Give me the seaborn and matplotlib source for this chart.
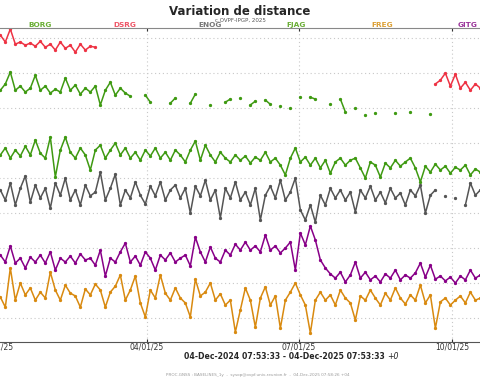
import numpy as np
import pandas as pd
import matplotlib
matplotlib.use("Agg")
import matplotlib.pyplot as plt
import matplotlib.dates as mdates
import seaborn as sns

nan = np.nan

# sampling dates (every 3 days over the year)
dates = pd.date_range("2024-12-04", periods=122, freq="3D")

# baseline variations, one offset per station (grid step = 10)
dsrg = [80.6, 81.7, 80.0, 80.9, 79.4, 81.1, 80.3, 79.7, 81.4, 80.6,
        80.9, 78.9, 82.6, 78.3, 78.9, 78.0, 78.6, 77.7, 79.1, 77.4,
        78.3, 76.6, 78.9, 77.1, 78.0, 76.0, 78.3, 76.6, 77.7, 77.4] \
    + [nan] * 67 + \
       [66.9, 68.0, 70.0, 66.3, 69.7, 65.7, 67.4, 65.1, 66.9, 65.7,
        67.1, 65.4, 66.6, 64.9, 66.9, 65.7, 66.3, 65.1, 67.1, 66.0,
        66.6, 65.4, 66.9, 65.7, 66.3]

borg = [65.7, 64.6, 66.6, 65.1, 63.7, 66.0, 64.9, 66.3, 64.3, 65.4,
        65.1, 66.9, 70.3, 65.1, 66.3, 64.6, 65.7, 69.4, 65.1, 66.3,
        64.3, 65.4, 64.6, 68.6, 65.1, 66.6, 64.0, 65.7, 64.6, 66.3,
        60.9, 65.1, 67.4, 63.7, 65.7, 64.3, 63.4, nan, nan, 63.7,
        61.7, nan, nan, nan, 61.4, 62.9, nan, nan, 61.4, 64.0,
        nan, nan, 60.9, nan, nan, 61.7, 62.6, nan, 62.9, nan,
        60.9, 62.0, nan, 62.3, 61.1, nan, 60.6, nan, 60.0, nan,
        63.1, nan, 63.1, 62.6, nan, nan, 61.1, nan, 62.6, 58.9,
        nan, 60.0, nan, 58.0, nan, 58.6, nan, nan, nan, 58.6,
        nan, nan, 58.9, nan, nan, nan, 58.3] + [nan] * 25

enog = [36.6, 33.7, 38.0, 35.1, 32.3, 37.1, 36.0, 34.3, 38.3, 34.9,
        36.6, 33.7, 38.6, 32.3, 37.1, 40.6, 33.1, 38.0, 34.3, 37.1,
        31.4, 38.6, 35.1, 40.0, 33.7, 36.6, 32.3, 38.0, 34.9, 36.0,
        41.7, 33.7, 37.1, 41.1, 32.3, 36.6, 34.3, 38.9, 35.1, 32.6,
        37.7, 34.9, 38.9, 33.7, 36.6, 38.0, 34.3, 37.1, 30.0, 37.7,
        34.9, 39.4, 33.7, 36.6, 28.6, 37.1, 34.3, 38.9, 33.7, 36.0,
        32.3, 37.1, 28.0, 35.1, 37.7, 34.3, 39.4, 33.7, 36.0, 40.0,
        30.9, 28.0, 32.3, 27.4, 35.1, 32.3, 37.1, 34.3, 36.6, 33.7,
        36.0, 30.3, 36.6, 34.3, 37.7, 33.7, 36.0, 32.9, 37.1, 34.3,
        35.7, 32.3, 36.6, 34.9, 38.0, 30.0, 35.1, 36.6, nan, 34.9,
        nan, 34.3, nan, 32.3, 38.6, 35.1, 36.6,
        34.9, 37.1, 33.7, 36.0, 37.7, 34.3, 36.6, 33.1, 37.1, 35.1,
        36.0, 34.0, 37.4, 35.4, 36.3]

fjag = [48.0, 45.7, 49.4, 46.6, 45.1, 48.6, 47.4, 46.0, 49.1, 47.1,
        46.6, 48.6, 45.7, 48.0, 46.3, 49.1, 46.6, 50.9, 47.1, 45.7,
        51.7, 40.3, 48.0, 51.7, 47.4, 45.7, 48.6, 46.6, 42.3, 48.0,
        49.4, 45.7, 48.0, 50.0, 46.6, 48.6, 45.7, 47.4, 45.1, 48.0,
        46.3, 48.6, 45.7, 47.4, 45.1, 48.0, 46.6, 44.6, 48.0, 50.6,
        45.1, 49.4, 46.6, 44.6, 47.4, 45.7, 44.6, 46.6, 45.1, 46.3,
        44.3, 46.0, 45.1, 47.4, 44.6, 45.7, 43.7, 40.9, 45.7, 48.6,
        44.6, 46.0, 43.7, 45.7, 42.9, 45.1, 41.4, 44.6, 45.7, 43.7,
        45.1, 45.7, 42.9, 40.0, 44.6, 43.7, 40.3, 44.3, 42.9, 45.1,
        43.4, 44.6, 45.7, 42.9, 38.9, 43.4, 41.7, 44.0, 42.3, 43.4,
        41.4, 43.1, 42.3, 43.7, 40.9, 42.6, 41.7,
        42.9, 41.1, 43.4, 42.0, 40.6, 42.6, 41.4, 43.1, 41.7, 42.3,
        40.9, 42.9, 41.4, 42.3, 41.1]

freg = [5.7, 7.4, 4.3, 8.0, 6.3, 5.1, 8.6, 6.6, 3.7, 5.4,
        6.0, 3.1, 14.3, 5.1, 10.0, 6.6, 8.6, 5.1, 7.4, 5.7,
        13.1, 8.0, 5.1, 9.4, 7.1, 6.3, 3.1, 8.3, 6.6, 9.7,
        8.0, 3.1, 7.4, 9.1, 12.3, 5.1, 8.0, 12.0, 4.3, 0.3,
        8.0, 5.7, 12.3, 7.1, 5.1, 8.6, 5.7, 4.3, 0.3, 11.1,
        6.3, 7.4, 10.0, 5.1, 6.9, 3.7, 5.1, -4.0, 2.3, 8.6,
        5.1, -2.6, 5.7, 8.9, 3.7, 6.3, -2.9, 5.1, 7.4, 10.0,
        6.6, 3.7, -4.3, 5.1, 7.4, 5.1, 6.6, 3.7, 8.0, 5.7,
        4.3, -0.6, 6.3, 5.1, 8.0, 5.7, 3.7, 7.1, 5.1, 8.6,
        5.7, 4.0, 6.6, 5.1, 9.4, 4.3, 6.6, -2.9, 4.6, 5.7,
        3.7, 5.1, 6.3, 4.3, 7.4, 5.1, 5.7,
        4.6, 6.6, 5.1, 3.4, 7.1, 5.4, 4.0, 6.0, 4.9, 6.6,
        4.3, 5.7, 5.1, 6.3, 4.6]

gitg = [16.6, 18.0, 16.0, 18.9, 17.1, 15.1, 17.7, 16.6, 19.4, 17.1,
        18.0, 16.0, 20.6, 15.7, 17.1, 14.3, 17.4, 16.0, 18.0, 15.7,
        18.9, 13.7, 17.1, 16.0, 17.7, 15.7, 18.3, 16.6, 17.1, 15.1,
        19.4, 12.0, 17.1, 16.0, 18.9, 21.4, 16.0, 17.7, 15.1, 18.9,
        17.1, 13.7, 18.0, 16.6, 18.6, 16.0, 17.1, 18.0, 14.9, 23.1,
        18.9, 16.0, 20.3, 17.1, 16.0, 19.4, 18.0, 21.1, 19.4, 21.7,
        19.4, 20.6, 18.9, 23.7, 19.4, 20.6, 18.6, 20.0, 21.7, 13.7,
        24.3, 20.9, 26.3, 22.3, 16.6, 14.3, 12.6, 11.4, 13.1, 10.3,
        12.3, 16.0, 11.4, 13.1, 10.9, 12.0, 10.3, 12.6, 11.4, 13.7,
        10.9, 12.3, 11.4, 12.9, 15.7, 11.7, 15.1, 11.1, 12.0, 10.6,
        11.7, 10.0, 12.0, 10.9, 13.7, 11.4, 12.3,
        10.9, 12.0, 11.1, 12.6, 10.6, 11.7, 11.1, 12.3, 10.9, 11.7,
        10.3, 12.0, 11.1, 12.6, 10.9]

stations = ["BORG", "DSRG", "ENOG", "FJAG", "FREG", "GITG"]
series = {"DSRG": dsrg, "BORG": borg, "FJAG": fjag, "ENOG": enog,
          "GITG": gitg, "FREG": freg}
line_colors = {"DSRG": "#ee3344", "BORG": "#3f9a12", "FJAG": "#3f9a12",
               "ENOG": "#555555", "GITG": "#880088", "FREG": "#d98a10"}
label_colors = {"BORG": "#6aae35", "DSRG": "#ee5566", "ENOG": "#777777",
                "FJAG": "#6aae35", "FREG": "#dca035", "GITG": "#993399"}

sns.set_style("white")
plt.rcParams["font.family"] = ["DejaVu Sans"]

fig = plt.figure(figsize=(4.8, 3.84), dpi=100)
# axes wider than the figure: the picture is a crop of a larger plot
ax = fig.add_axes([-0.1035, 0.109, 1.2675, 0.818])

for name, vals in series.items():
    df = pd.DataFrame({"date": dates, "val": vals})
    df["seg"] = df["val"].isna().cumsum()
    df = df.dropna()
    sns.lineplot(data=df, x="date", y="val", units="seg", estimator=None,
                 color=line_colors[name], lw=1.1, marker="o", ms=1.6,
                 mec=line_colors[name], ax=ax, legend=False)

ax.set_xlim(pd.Timestamp("2024-12-04"), pd.Timestamp("2025-12-04"))
ax.set_ylim(-6.9, 82.9)
ax.set_yticks(np.arange(0, 81, 10))
ax.xaxis.set_major_locator(mdates.MonthLocator(bymonth=[1, 4, 7, 10]))
ax.xaxis.set_major_formatter(mdates.DateFormatter("%m/%d/%y"))
ax.grid(True, color="#c8c8c8", ls=(0, (1, 2.5)), lw=0.8)
ax.set_xlabel("")
ax.set_ylabel("")
ax.tick_params(axis="x", labelsize=5.5, pad=0.5, length=2, top=True,
               bottom=True, direction="in", colors="#333333")
ax.tick_params(axis="y", labelleft=False, length=0)
for s in ["left", "right"]:
    ax.spines[s].set_visible(False)
ax.spines["bottom"].set_color("#555555")
ax.spines["top"].set_color("#888888")

fig.text(0.5, 0.970, "Variation de distance", ha="center", va="center",
         fontsize=8.5, fontweight="bold")
fig.text(0.5, 0.948, "c.OVPF-IPGP, 2025", ha="center", va="center",
         fontsize=4.0, color="#555555")

label_x = [40, 125, 210, 296, 382, 468]
for name, xp in zip(stations, label_x):
    fig.text(xp / 480, 0.935, name, ha="center", va="center", fontsize=5.3,
             fontweight="bold", color=label_colors[name])

fig.text(0.802, 0.071, "04-Dec-2024 07:53:33 - 04-Dec-2025 07:53:33",
         ha="right", va="center", fontsize=5.6, fontweight="bold")
fig.text(0.806, 0.071, "+0", ha="left", va="center", fontsize=5.6,
         style="italic")
fig.text(0.345, 0.023,
         "PROC.GNSS : BASELINES_1y  -  sysop@ovpf.univ-reunion.fr  -  04-Dec-2025 07:58:26 +04",
         ha="left", va="center", fontsize=3, color="#999999")

fig.savefig("out.png", dpi=100)
